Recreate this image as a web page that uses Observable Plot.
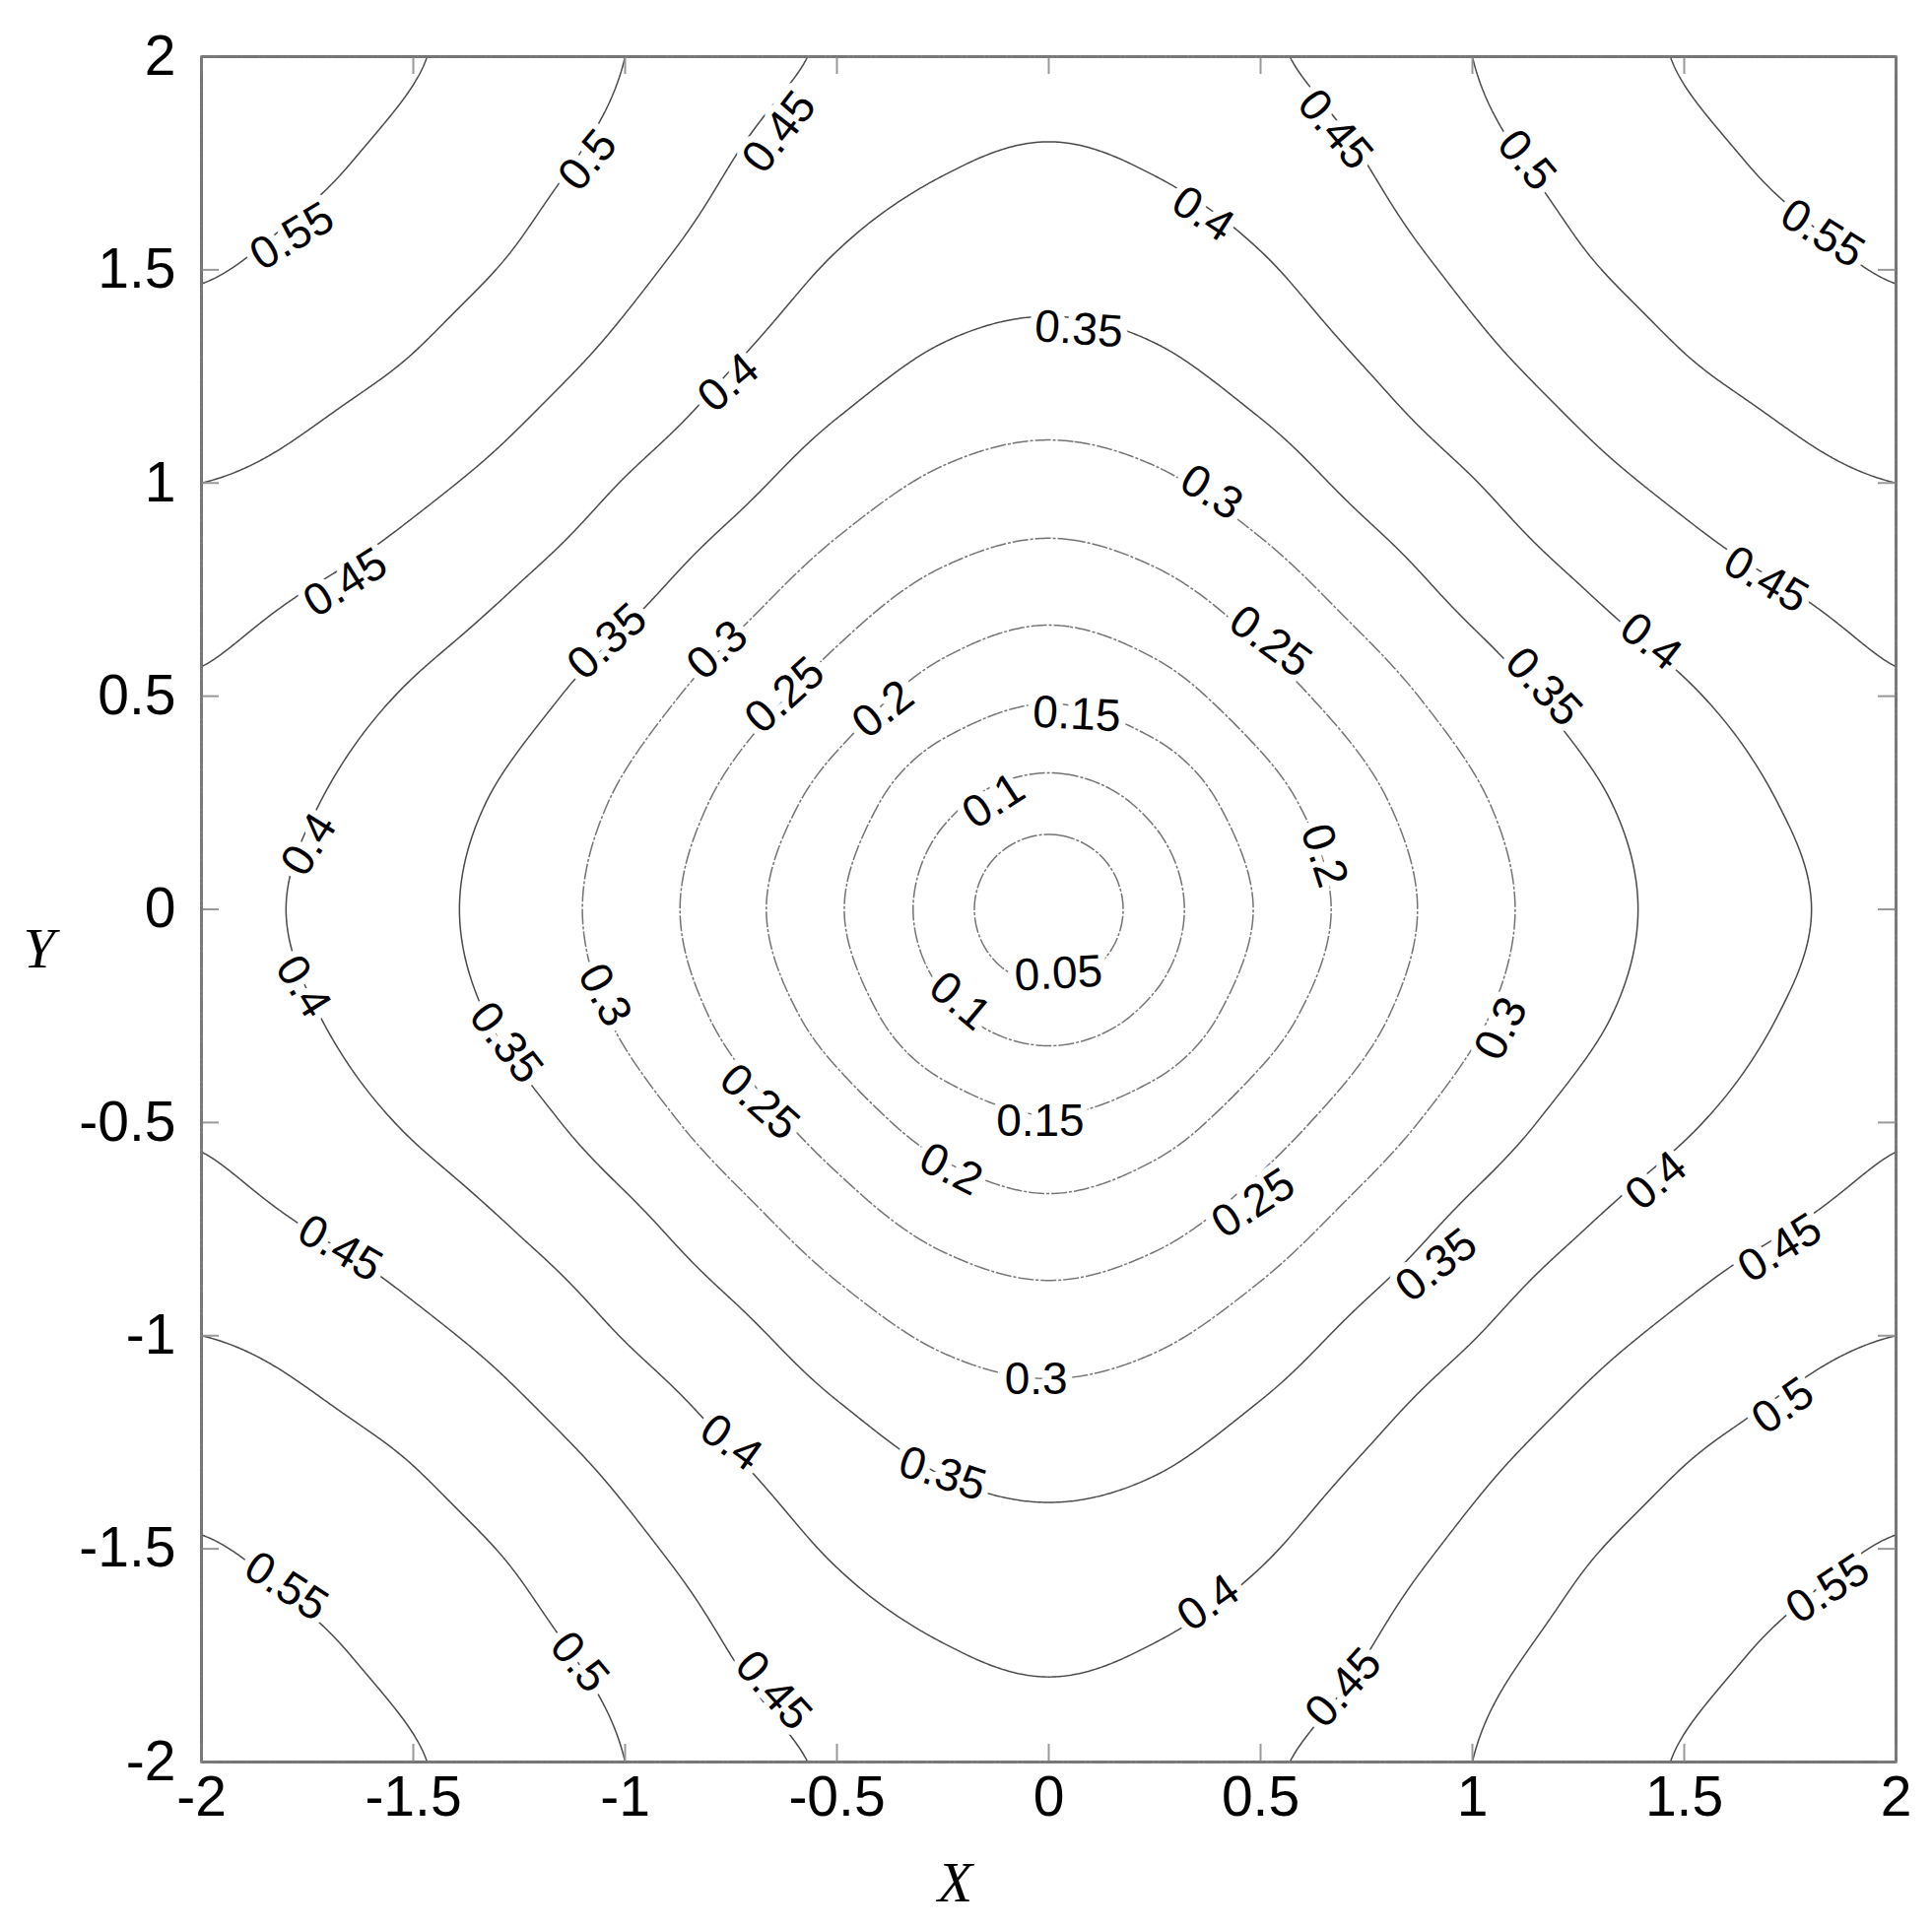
<!DOCTYPE html>
<html>
<head>
<meta charset="utf-8">
<script src="https://cdn.jsdelivr.net/npm/d3@7"></script>
<script src="https://cdn.jsdelivr.net/npm/@observablehq/plot@0.6"></script>
<style>
html, body { margin: 0; padding: 0; background: #fff; }
#chart svg { display: block; }
</style>
</head>
<body>
<div id="chart"></div>
<script>
// Grid of field values (x left→right, y top→bottom)
const gridX = [-2, -1.75, -1.5, -1.25, -1, -0.75, -0.5, -0.25, 0, 0.25, 0.5, 0.75, 1, 1.25, 1.5, 1.75, 2];
const gridY = [2, 1.75, 1.5, 1.25, 1, 0.75, 0.5, 0.25, 0, -0.25, -0.5, -0.75, -1, -1.25, -1.5, -1.75, -2];
const gridZ = [
  [.590,.573,.553,.528,.500,.467,.444,.422,.415,.422,.444,.467,.500,.528,.553,.573,.590],
  [.573,.558,.537,.513,.486,.450,.422,.403,.395,.403,.422,.450,.486,.513,.537,.558,.573],
  [.553,.537,.518,.494,.461,.427,.395,.373,.365,.373,.395,.427,.461,.494,.518,.537,.553],
  [.528,.513,.494,.465,.433,.398,.365,.338,.328,.338,.365,.398,.433,.465,.494,.513,.528],
  [.500,.486,.461,.433,.398,.364,.324,.292,.279,.292,.324,.364,.398,.433,.461,.486,.500],
  [.467,.450,.427,.398,.364,.321,.276,.238,.221,.238,.276,.321,.364,.398,.427,.450,.467],
  [.444,.422,.395,.365,.324,.276,.227,.178,.155,.178,.227,.276,.324,.365,.395,.422,.444],
  [.422,.403,.373,.338,.292,.238,.178,.111,.078,.111,.178,.238,.292,.338,.373,.403,.422],
  [.415,.395,.365,.328,.279,.221,.155,.078,0.00,.078,.155,.221,.279,.328,.365,.395,.415],
  [.422,.403,.373,.338,.292,.238,.178,.111,.078,.111,.178,.238,.292,.338,.373,.403,.422],
  [.444,.422,.395,.365,.324,.276,.227,.178,.155,.178,.227,.276,.324,.365,.395,.422,.444],
  [.467,.450,.427,.398,.364,.321,.276,.238,.221,.238,.276,.321,.364,.398,.427,.450,.467],
  [.500,.486,.461,.433,.398,.364,.324,.292,.279,.292,.324,.364,.398,.433,.461,.486,.500],
  [.528,.513,.494,.465,.433,.398,.365,.338,.328,.338,.365,.398,.433,.465,.494,.513,.528],
  [.553,.537,.518,.494,.461,.427,.395,.373,.365,.373,.395,.427,.461,.494,.518,.537,.553],
  [.573,.558,.537,.513,.486,.450,.422,.403,.395,.403,.422,.450,.486,.513,.537,.558,.573],
  [.590,.573,.553,.528,.500,.467,.444,.422,.415,.422,.444,.467,.500,.528,.553,.573,.590]
];

const levels = [0.05, 0.1, 0.15, 0.2, 0.25, 0.3, 0.35, 0.4, 0.45, 0.5, 0.55];

const xTicks = [-2, -1.5, -1, -0.5, 0, 0.5, 1, 1.5, 2];
const yTicks = [-2, -1.5, -1, -0.5, 0, 0.5, 1, 1.5, 2];

// Contour labels
const labelText = ["0.55","0.5","0.45","0.45","0.5","0.55","0.4","0.35","0.4","0.3",
  "0.45","0.45","0.35","0.3","0.25","0.4","0.35","0.25","0.2","0.15",
  "0.1","0.2","0.4","0.4","0.05","0.3","0.1","0.3","0.35","0.25",
  "0.15","0.2","0.4","0.25","0.45","0.45","0.35","0.3","0.5","0.4",
  "0.35","0.55","0.55","0.4","0.5","0.45","0.45"];
const labelX = [-1.786,-1.088,-0.636,0.676,1.128,1.826,0.364,0.071,-0.756,0.384,
  -1.66,1.693,-1.042,-0.782,0.523,1.421,1.168,-0.623,-0.391,0.066,
  -0.13,0.65,-1.746,-1.76,0.023,-1.048,-0.21,1.068,-1.281,-0.683,
  -0.02,-0.231,1.434,0.483,-1.673,1.726,0.915,-0.03,1.733,-0.75,
  -0.251,-1.80,1.839,0.377,-1.108,-0.65,0.696];
const labelY = [1.578,1.757,1.823,1.829,1.757,1.585,1.631,1.36,1.235,0.978,
  0.766,0.773,0.628,0.608,0.628,0.628,0.522,0.502,0.469,0.457,
  0.254,0.126,0.152,-0.181,-0.151,-0.201,-0.215,-0.28,-0.313,-0.452,
  -0.497,-0.61,-0.637,-0.69,-0.795,-0.795,-0.835,-1.104,-1.165,-1.251,
  -1.324,-1.588,-1.594,-1.627,-1.766,-1.832,-1.826];
const labelAngle = [-31,-50,-52,50,50,32,33,4,-40,32,
  -32,30,-42,-42,36,38,47,-42,-38,3,
  -33,72,-58,58,-3,62,40,-63,52,42,
  0,27,-40,-33,30,-32,-38,0,-35,36,
  18,33,-33,-35,50,48,-48];

const labels = labelText.map((t, i) => ({text: t, x: labelX[i], y: labelY[i], angle: labelAngle[i]}));

// Smooth (Catmull-Rom) reading of the grid for Plot's contour sampler
const nX = gridX.length, nY = gridY.length;
const stepX = gridX[1] - gridX[0], stepY = gridY[0] - gridY[1];
function cr(p0, p1, p2, p3, t) {
  return 0.5 * (2 * p1 + (-p0 + p2) * t + (2 * p0 - 5 * p1 + 4 * p2 - p3) * t * t + (-p0 + 3 * p1 - 3 * p2 + p3) * t * t * t);
}
function gz(r, c) {
  r = Math.max(0, Math.min(nY - 1, r));
  c = Math.max(0, Math.min(nX - 1, c));
  return gridZ[r][c];
}
function field(x, y) {
  const u = Math.max(0, Math.min(nX - 1 - 1e-9, (x - gridX[0]) / stepX));
  const v = Math.max(0, Math.min(nY - 1 - 1e-9, (gridY[0] - y) / stepY));
  const c = Math.floor(u), r = Math.floor(v), fu = u - c, fv = v - r;
  const rows = [-1, 0, 1, 2].map(dr => cr(gz(r + dr, c - 1), gz(r + dr, c), gz(r + dr, c + 1), gz(r + dr, c + 2), fu));
  return cr(rows[0], rows[1], rows[2], rows[3], fv);
}

const W = 1961, H = 1958, mL = 204, mR = 37, mT = 57, mB = 170;
const fw = W - mL - mR, fh = H - mT - mB, tl = 18;

const contourOpts = {value: field, x1: gridX[0], x2: gridX[nX - 1], y1: gridY[nY - 1], y2: gridY[0], pixelSize: 2, fill: "none"};

const chart = Plot.plot({
  width: W, height: H,
  marginLeft: mL, marginRight: mR, marginTop: mT, marginBottom: mB,
  x: {domain: [-2, 2]},
  y: {domain: [-2, 2]},
  style: {fontFamily: "'Liberation Sans', Arial, sans-serif", background: "white", color: "black"},
  marks: [
    Plot.contour({...contourOpts, thresholds: levels.filter(v => v <= 0.3), stroke: "#747474", strokeWidth: 1.5, strokeDasharray: "16,2,3,2"}),
    Plot.contour({...contourOpts, thresholds: levels.filter(v => v > 0.3), stroke: "#4a4a4a", strokeWidth: 1.5}),
    Plot.tickX(xTicks, {x: d => d, insetTop: fh - tl, stroke: "#999", strokeWidth: 2}),
    Plot.tickX(xTicks, {x: d => d, insetBottom: fh - tl, stroke: "#999", strokeWidth: 2}),
    Plot.tickY(yTicks, {y: d => d, insetRight: fw - tl, stroke: "#999", strokeWidth: 2}),
    Plot.tickY(yTicks, {y: d => d, insetLeft: fw - tl, stroke: "#999", strokeWidth: 2}),
    Plot.frame({stroke: "#7a7a7a", strokeWidth: 2.5}),
    Plot.text(labels, {x: "x", y: "y", text: "text", rotate: "angle", fontSize: 46, fill: "black",
      stroke: "white", strokeWidth: 14, paintOrder: "stroke", strokeLinejoin: "round"}),
    Plot.axisX({ticks: xTicks, tickSize: 0, tickPadding: 14, fontSize: 57, tickFormat: d => String(d), label: null}),
    Plot.axisY({ticks: yTicks, tickSize: 0, tickPadding: 26, fontSize: 57, tickFormat: d => String(d), label: null}),
    Plot.text(["X"], {frameAnchor: "bottom", dx: -95, dy: 141, fontSize: 58, fontStyle: "italic", fontFamily: "'Liberation Serif', 'DejaVu Serif', serif", fill: "black"}),
    Plot.text(["Y"], {frameAnchor: "left", dx: -181, dy: 40, fontSize: 58, fontStyle: "italic", fontFamily: "'Liberation Serif', 'DejaVu Serif', serif", fill: "black"})
  ]
});
document.getElementById("chart").appendChild(chart);
</script>
</body>
</html>
